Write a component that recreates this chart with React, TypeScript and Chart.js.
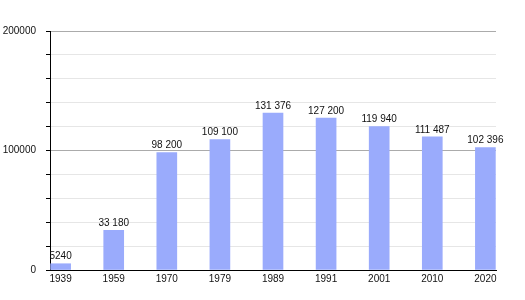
import React, { useEffect, useRef } from "react";
import { Chart, registerables } from "chart.js";

Chart.register(...registerables);

const years = ["1939", "1959", "1970", "1979", "1989", "1991", "2001", "2010", "2020"];
const population = [5240, 33180, 98200, 109100, 131376, 127200, 119940, 111487, 102396];
const yMax = 200000;
const yStep = 20000;
const yMajor = 100000;

const fmt = (n: number) =>
  n >= 10000 ? String(n).replace(/\B(?=(\d{3})+(?!\d))/g, " ") : String(n);

const FONT = "'Liberation Sans', Arial, sans-serif";

const valueLabels = {
  id: "valueLabels",
  afterDatasetsDraw(chart: any) {
    const ctx = chart.ctx;
    const meta = chart.getDatasetMeta(0);
    ctx.save();
    ctx.font = `10px ${FONT}`;
    ctx.fillStyle = "#111";
    ctx.textAlign = "center";
    ctx.textBaseline = "bottom";
    meta.data.forEach((bar: any, i: number) => {
      ctx.fillText(fmt(population[i]), bar.x, bar.y - 2);
    });
    ctx.restore();
  },
};

export default function App() {
  const ref = useRef<HTMLCanvasElement | null>(null);
  useEffect(() => {
    if (!ref.current) return;
    const chart = new Chart(ref.current, {
      type: "bar",
      data: {
        datasets: [
          {
            data: population.map((v, i) => ({ x: i, y: v })),
            backgroundColor: "#9aabfc",
            barThickness: 20,
            borderWidth: 0,
          },
        ],
      },
      options: {
        animation: false,
        responsive: false,
        maintainAspectRatio: false,
        layout: { padding: { top: 31, right: 29, bottom: 0, left: 0 } },
        plugins: { legend: { display: false }, tooltip: { enabled: false } },
        scales: {
          x: {
            type: "linear",
            offset: false,
            min: -0.2,
            max: years.length - 1 + 0.2,
            afterBuildTicks: (scale: any) => {
              scale.ticks = years.map((_, i) => ({ value: i }));
            },
            afterFit: (scale: any) => {
              scale.height = 30;
            },
            grid: { display: false, drawTicks: false, offset: false },
            border: { display: true, color: "#000", width: 1 },
            ticks: {
              autoSkip: false,
              maxRotation: 0,
              padding: 3,
              color: "#111",
              font: { family: FONT, size: 10 },
              callback: (v: any) => years[Number(v)] ?? "",
            },
          },
          y: {
            min: 0,
            max: yMax,
            afterFit: (scale: any) => {
              scale.width = 50;
            },
            grid: {
              color: (c: any) => (c.tick && c.tick.value % yMajor === 0 ? "#ababab" : "#e6e6e6"),
              tickColor: "#000",
              tickLength: 4,
            },
            border: { display: true, color: "#000", width: 1 },
            ticks: {
              stepSize: yStep,
              padding: 10,
              color: "#111",
              font: { family: FONT, size: 10 },
              callback: (v: any) => (Number(v) % yMajor === 0 ? String(v) : ""),
            },
          },
        },
      },
      plugins: [valueLabels],
    });
    return () => chart.destroy();
  }, []);
  return (
    <div style={{ position: "fixed", left: 0, top: 0, width: 525, height: 300, background: "#fff" }}>
      <canvas ref={ref} width={525} height={300} style={{ width: 525, height: 300 }} />
    </div>
  );
}
